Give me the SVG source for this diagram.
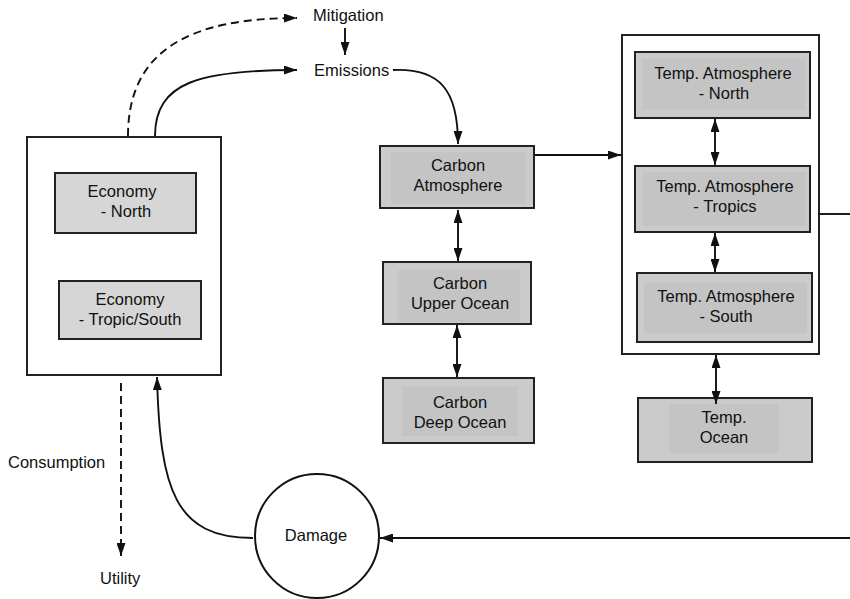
<svg xmlns="http://www.w3.org/2000/svg" width="850" height="599" viewBox="0 0 850 599">
<defs>
<marker id="arr" viewBox="0 0 13 9" refX="13" refY="4.5" markerWidth="13" markerHeight="9" markerUnits="userSpaceOnUse" orient="auto-start-reverse">
<path d="M0,0 L13,4.5 L0,9 z" fill="#111"/>
</marker>
<style>
text{font-family:"Liberation Sans",Arial,sans-serif;font-size:16.5px;fill:#111;text-anchor:middle}
.lbl{text-anchor:start}
.cont{fill:#fff;stroke:#222;stroke-width:2}
.box{fill:#cbcbcb;stroke:#222;stroke-width:2}
.inner{fill:#c4c4c4;stroke:none}
.eco{fill:#d6d6d6;stroke:#222;stroke-width:2}
.c{fill:none;stroke:#111;stroke-width:1.9}
.d{stroke-dasharray:8,5}
</style>
</defs>
<g id="economy">
<rect class="cont" x="27" y="137" width="194" height="238"/>
</g>
<g id="economy-north">
<rect class="eco" x="55" y="173" width="141" height="60"/>
<text x="122" y="197">Economy</text>
<text x="126" y="217">- North</text>
</g>
<g id="economy-south">
<rect class="eco" x="59" y="281" width="142" height="58"/>
<text x="130" y="305">Economy</text>
<text x="130" y="325">- Tropic/South</text>
</g>
<g id="mitigation"><text class="lbl" x="313" y="21">Mitigation</text></g>
<g id="emissions"><text class="lbl" x="314" y="76">Emissions</text></g>
<g id="carbon-atmosphere">
<rect class="box" x="380" y="146" width="154" height="62"/>
<rect class="inner" x="391" y="152" width="134" height="52"/>
<text x="458" y="171">Carbon</text>
<text x="458" y="191">Atmosphere</text>
</g>
<g id="carbon-upper-ocean">
<rect class="box" x="383" y="262" width="148" height="62"/>
<rect class="inner" x="398" y="270" width="122" height="52"/>
<text x="460" y="289">Carbon</text>
<text x="460" y="309">Upper Ocean</text>
</g>
<g id="carbon-deep-ocean">
<rect class="box" x="383" y="378" width="151" height="65"/>
<rect class="inner" x="402" y="386" width="116" height="50"/>
<text x="460" y="408">Carbon</text>
<text x="460" y="428">Deep Ocean</text>
</g>
<g id="temp-atmosphere">
<rect class="cont" x="622" y="35" width="197" height="319"/>
</g>
<g id="temp-north">
<rect class="box" x="635" y="52" width="175" height="66"/>
<rect class="inner" x="642" y="59" width="163" height="51"/>
<text x="723" y="79">Temp. Atmosphere</text>
<text x="724" y="99">- North</text>
</g>
<g id="temp-tropics">
<rect class="box" x="635" y="166" width="175" height="66"/>
<rect class="inner" x="643" y="172" width="163" height="54"/>
<text x="725" y="192">Temp. Atmosphere</text>
<text x="725" y="212">- Tropics</text>
</g>
<g id="temp-south">
<rect class="box" x="637" y="273" width="175" height="69"/>
<rect class="inner" x="644" y="283" width="163" height="50"/>
<text x="726" y="302">Temp. Atmosphere</text>
<text x="726" y="322">- South</text>
</g>
<g id="temp-ocean">
<rect class="box" x="638" y="398" width="174" height="64"/>
<rect class="inner" x="669" y="404" width="110" height="49"/>
<text x="724" y="423">Temp.</text>
<text x="724" y="443">Ocean</text>
</g>
<g id="damage">
<circle cx="317" cy="536" r="62" fill="#fff" stroke="#111" stroke-width="2"/>
<text x="316" y="541">Damage</text>
</g>
<g id="consumption"><text class="lbl" x="8" y="468">Consumption</text></g>
<g id="utility"><text class="lbl" x="100" y="584">Utility</text></g>
<g id="connectors">
<path class="c d" d="M128 136 C128 50 190 18 297 18" marker-end="url(#arr)"/>
<path class="c" d="M155 136 C155 82 200 70 297 70" marker-end="url(#arr)"/>
<path class="c" d="M345 28 L345 55" marker-end="url(#arr)"/>
<path class="c" d="M393 70 C440 68 458 90 458 144" marker-end="url(#arr)"/>
<path class="c" d="M535 155 L621 155" marker-end="url(#arr)"/>
<path class="c" d="M458 210 L458 261" marker-start="url(#arr)" marker-end="url(#arr)"/>
<path class="c" d="M457 325 L457 377" marker-start="url(#arr)" marker-end="url(#arr)"/>
<path class="c" d="M715 119 L715 165" marker-start="url(#arr)" marker-end="url(#arr)"/>
<path class="c" d="M715 233 L715 272" marker-start="url(#arr)" marker-end="url(#arr)"/>
<path class="c" d="M716 355 L716 404" marker-start="url(#arr)" marker-end="url(#arr)"/>
<path class="c" d="M819 214 L850 214"/>
<path class="c" d="M850 538 L380 538" marker-end="url(#arr)"/>
<path class="c" d="M253 538 C175 538 160 490 157 377" marker-end="url(#arr)"/>
<path class="c d" d="M121 383 L121 556" marker-end="url(#arr)"/>
</g>
</svg>
